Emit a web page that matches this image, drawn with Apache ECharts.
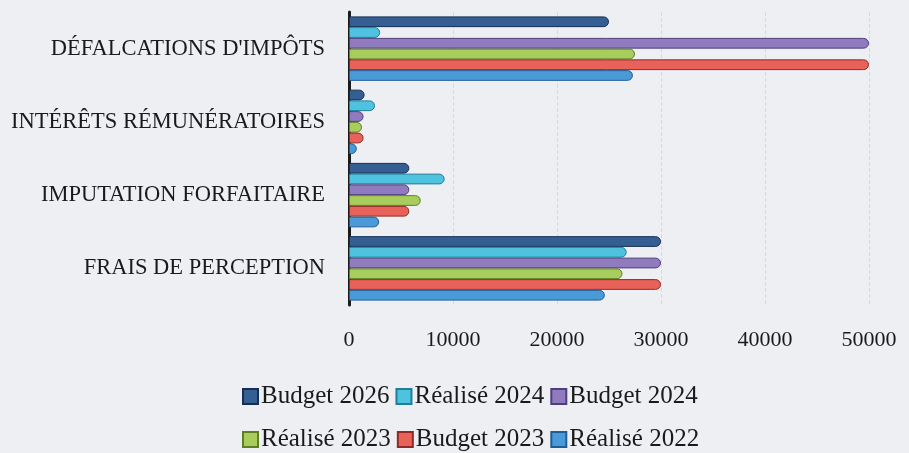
<!DOCTYPE html>
<html>
<head>
<meta charset="utf-8">
<script src="https://cdn.jsdelivr.net/npm/echarts@6/dist/echarts.min.js"></script>
<style>
html, body { margin: 0; padding: 0; background: #eeeff3; }
#container { width: 909px; height: 453px; }
</style>
</head>
<body>
<div id="container"></div>
<script>
var categories = ['FRAIS DE PERCEPTION', 'IMPUTATION FORFAITAIRE', 'INTÉRÊTS RÉMUNÉRATOIRES', "DÉFALCATIONS D'IMPÔTS"];
var xTicks = [0, 10000, 20000, 30000, 40000, 50000];

// valeurs par catégorie (de bas en haut)
var budget2026 = [30000, 5800, 1500, 25000];
var realise2024 = [26700, 9200, 2500, 3000];
var budget2024 = [30000, 5800, 1400, 50000];
var realise2023 = [26300, 6900, 1250, 27500];
var budget2023 = [30000, 5800, 1400, 50000];
var realise2022 = [24600, 2900, 750, 27300];

var myChart = echarts.init(document.getElementById('container'));
var font = '"Liberation Serif", "DejaVu Serif", serif';

function serie(name, data, color, dark) {
	return {
		name: name,
		type: 'bar',
		data: data,
		barGap: '0%',
		barCategoryGap: '12%',
		itemStyle: {
			color: color,
			borderColor: dark,
			borderWidth: 1,
			borderRadius: [0, 5, 5, 0]
		}
	};
}

var legendText = { fontFamily: font, fontSize: 25, color: '#1a1a1a', padding: [0, 0, 0, -2] };

myChart.setOption({
	backgroundColor: '#eeeff3',
	animation: false,
	grid: {
		left: 349,
		right: 40,
		top: 12,
		bottom: 148
	},
	legend: [
		{
			data: ['Budget 2026', 'Réalisé 2024', 'Budget 2024'],
			top: 379,
			left: 237,
			itemWidth: 15,
			itemHeight: 15,
			itemGap: 6,
			icon: 'rect',
			textStyle: legendText
		},
		{
			data: ['Réalisé 2023', 'Budget 2023', 'Réalisé 2022'],
			top: 422,
			left: 237,
			itemWidth: 15,
			itemHeight: 15,
			itemGap: 6,
			icon: 'rect',
			textStyle: legendText
		}
	],
	xAxis: {
		type: 'value',
		min: xTicks[0],
		max: xTicks[xTicks.length - 1],
		interval: 10000,
		axisLine: { show: false },
		axisTick: { show: false },
		splitLine: { show: true, lineStyle: { color: '#d8d8de', type: 'dashed' } },
		axisLabel: {
			fontFamily: font, fontSize: 22, color: '#1a1a1a', margin: 24,
			formatter: function (v) { return String(v); }
		}
	},
	yAxis: {
		type: 'category',
		data: categories,
		axisTick: { show: false },
		axisLine: { show: true, lineStyle: { color: '#1a1a1a', width: 3 } },
		axisLabel: { fontFamily: font, fontSize: 22.5, color: '#1a1a1a', margin: 24 }
	},
	series: [
		serie('Budget 2026', budget2026, '#355f92', '#142f55'),
		serie('Réalisé 2024', realise2024, '#4fc2df', '#1f7f98'),
		serie('Budget 2024', budget2024, '#8f7bbd', '#4f3e7d'),
		serie('Réalisé 2023', realise2023, '#a8cd5c', '#5f7f22'),
		serie('Budget 2023', budget2023, '#e8625a', '#8f2a26'),
		serie('Réalisé 2022', realise2022, '#4a9ad8', '#1f5d96')
	]
});
</script>
</body>
</html>
